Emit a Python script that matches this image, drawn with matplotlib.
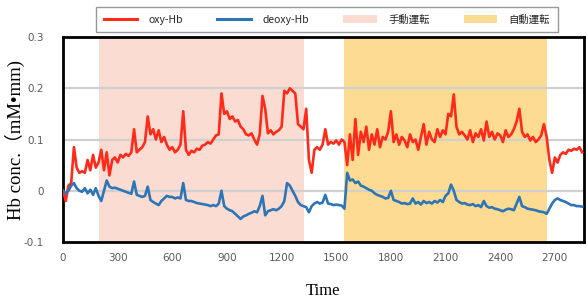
import numpy as np
import matplotlib
matplotlib.use("Agg")
import matplotlib.pyplot as plt
from matplotlib.lines import Line2D
from matplotlib.patches import Patch

# ---- data ----
step = 15
oxy_hb = [
    0.000, -0.020, 0.010, 0.015, 0.085, 0.045, 0.035, 0.038, 0.035, 0.060,
    0.040, 0.070, 0.045, 0.055, 0.080, 0.040, 0.075, 0.030, 0.060, 0.065,
    0.055, 0.070, 0.065, 0.072, 0.068, 0.075, 0.120, 0.075, 0.080, 0.085,
    0.095, 0.145, 0.110, 0.120, 0.100, 0.118, 0.095, 0.105, 0.090, 0.080,
    0.085, 0.075, 0.080, 0.090, 0.155, 0.080, 0.070, 0.078, 0.075, 0.082,
    0.080, 0.088, 0.090, 0.095, 0.092, 0.100, 0.108, 0.110, 0.190, 0.150,
    0.155, 0.140, 0.145, 0.135, 0.138, 0.125, 0.120, 0.110, 0.108, 0.112,
    0.100, 0.090, 0.110, 0.185, 0.160, 0.112, 0.118, 0.110, 0.115, 0.118,
    0.125, 0.195, 0.190, 0.200, 0.195, 0.190, 0.130, 0.125, 0.120, 0.160,
    0.060, 0.035, 0.080, 0.085, 0.080, 0.090, 0.120, 0.090, 0.095, 0.092,
    0.098, 0.090, 0.100, 0.095, 0.050, 0.110, 0.060, 0.140, 0.070, 0.115,
    0.095, 0.125, 0.080, 0.110, 0.090, 0.120, 0.085, 0.105, 0.100, 0.115,
    0.155, 0.095, 0.110, 0.090, 0.105, 0.098, 0.085, 0.110, 0.095, 0.100,
    0.080, 0.105, 0.130, 0.090, 0.115, 0.100, 0.095, 0.120, 0.105, 0.118,
    0.110, 0.150, 0.145, 0.188, 0.125, 0.110, 0.115, 0.108, 0.100, 0.118,
    0.095, 0.112, 0.105, 0.120, 0.098, 0.135, 0.105, 0.115, 0.100, 0.112,
    0.108, 0.095, 0.118, 0.105, 0.110, 0.120, 0.135, 0.160, 0.115, 0.105,
    0.110, 0.098, 0.105, 0.095, 0.100, 0.108, 0.130, 0.105, 0.060, 0.035,
    0.065, 0.055, 0.070, 0.075, 0.072, 0.080, 0.078, 0.082, 0.080, 0.085,
    0.075,
]
deoxy_hb = [
    0.000, -0.005, 0.000, 0.010, 0.015, 0.005, 0.000, -0.002, 0.005, -0.005,
    0.002, -0.008, 0.005, -0.010, -0.020, 0.000, 0.020, 0.008, 0.005, 0.006,
    0.004, 0.002, 0.000, -0.002, -0.004, -0.006, 0.018, -0.008, -0.010, -0.012,
    -0.010, 0.008, -0.018, -0.022, -0.025, -0.028, -0.020, -0.015, -0.010, -0.012,
    -0.012, -0.015, -0.013, -0.015, 0.015, -0.018, -0.020, -0.020, -0.022, -0.024,
    -0.025, -0.026, -0.027, -0.028, -0.030, -0.028, -0.030, -0.025, 0.000, -0.030,
    -0.035, -0.038, -0.040, -0.045, -0.050, -0.055, -0.050, -0.048, -0.045, -0.043,
    -0.040, -0.042, -0.030, -0.010, -0.048, -0.040, -0.038, -0.036, -0.038, -0.035,
    -0.030, -0.020, 0.015, 0.010, 0.000, -0.010, -0.022, -0.028, -0.030, -0.032,
    -0.042, -0.030, -0.025, -0.022, -0.025, -0.023, -0.008, -0.025, -0.026, -0.028,
    -0.027, -0.028, -0.029, -0.035, 0.035, 0.020, 0.022, 0.015, 0.018, 0.010,
    0.008, 0.005, 0.002, 0.000, -0.005, -0.008, -0.010, -0.012, -0.015, -0.014,
    0.000, -0.018, -0.020, -0.022, -0.025, -0.024, -0.026, -0.025, -0.015, -0.025,
    -0.022, -0.027, -0.020, -0.024, -0.022, -0.025, -0.020, -0.023, -0.018, -0.022,
    -0.010, -0.005, 0.012, 0.000, -0.018, -0.022, -0.025, -0.024, -0.027, -0.028,
    -0.026, -0.030, -0.028, -0.032, -0.020, -0.030, -0.033, -0.032, -0.035, -0.036,
    -0.038, -0.040, -0.037, -0.035, -0.036, -0.038, -0.025, -0.012, -0.030, -0.032,
    -0.035, -0.036, -0.037, -0.038, -0.040, -0.041, -0.042, -0.045, -0.035, -0.025,
    -0.018, -0.015, -0.018, -0.020, -0.022, -0.025, -0.028, -0.028, -0.030, -0.030,
    -0.031,
]
time = np.arange(len(oxy_hb)) * step

manual_span = (195, 1325)
auto_span = (1540, 2658)

x_ticks = [0, 300, 600, 900, 1200, 1500, 1800, 2100, 2400, 2700]
y_ticks = [-0.1, 0, 0.1, 0.2, 0.3]
y_tick_labels = ["-0.1", "0", "0.1", "0.2", "0.3"]

series_names = ["oxy-Hb", "deoxy-Hb"]
span_names = ["手動運転", "自動運転"]

# ---- style ----
red = "#ff2a1a"
blue = "#2e75b6"
pink = "#fbdcd2"
yellow = "#fedb92"
tick_gray = "#595959"

fig = plt.figure(figsize=(5.88, 3.05), dpi=100)
ax = fig.add_axes([63 / 588, 63 / 305, 521 / 588, 205 / 305])

ax.axvspan(*manual_span, color=pink, lw=0, zorder=0)
ax.axvspan(*auto_span, color=yellow, lw=0, zorder=0)
for yv in [0.0, 0.1, 0.2]:
    ax.axhline(yv, color="#d0d0d0", lw=1.6, zorder=1)

ax.plot(time, oxy_hb, color=red, lw=1.9, zorder=3)
ax.plot(time, deoxy_hb, color=blue, lw=1.9, zorder=3)

ax.set_xlim(0, 2860)
ax.set_ylim(-0.1, 0.3)
ax.set_xticks(x_ticks)
ax.set_xticklabels([str(v) for v in x_ticks])
ax.set_yticks(y_ticks)
ax.set_yticklabels(y_tick_labels)
ax.tick_params(length=0, labelsize=7.5, labelcolor=tick_gray, pad=8)
ax.tick_params(axis="y", pad=14)
for s in ax.spines.values():
    s.set_linewidth(2)
    s.set_color("black")

serif = ["Liberation Serif", "DejaVu Serif"]
ax.set_xlabel("Time", family=serif, fontsize=12, labelpad=14)
ax.set_ylabel("Hb conc.（mM•mm)", family=["Liberation Serif", "Noto Sans CJK JP"],
              fontsize=13.5)
ax.yaxis.set_label_coords(-0.072, 0.5)

handles = [
    Line2D([], [], color=red, lw=2.2),
    Line2D([], [], color=blue, lw=2.2),
    Patch(facecolor=pink, edgecolor="none"),
    Patch(facecolor=yellow, edgecolor="none"),
]
leg = fig.legend(handles, series_names + span_names, ncol=4,
                 loc="center", bbox_to_anchor=(327 / 588, 1 - 19.5 / 305),
                 frameon=True, fancybox=False, edgecolor="#808080",
                 prop={"family": ["Noto Sans CJK JP", "DejaVu Sans"], "size": 7.5},
                 handlelength=3.2, handleheight=0.9, columnspacing=3.3,
                 handletextpad=1.1, borderpad=0.75, borderaxespad=0)
leg.get_frame().set_linewidth(1.0)
for t in leg.get_texts():
    t.set_color("#262626")

fig.savefig("out.png", dpi=100)
